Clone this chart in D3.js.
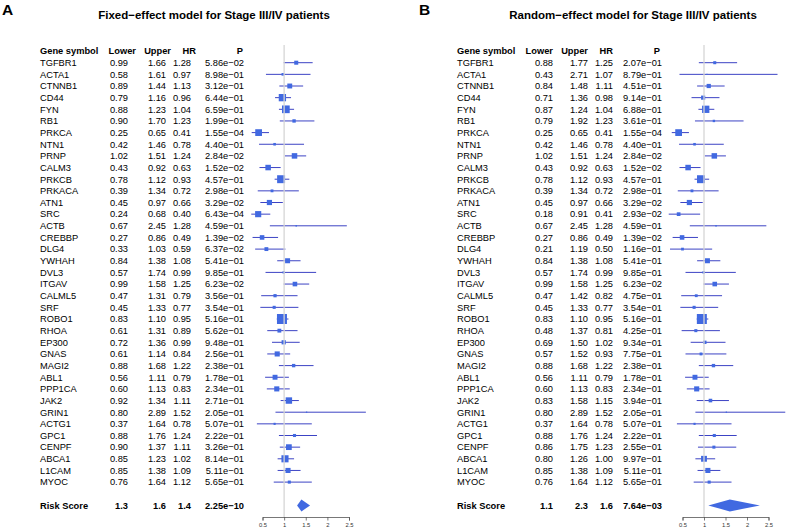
<!DOCTYPE html>
<html><head><meta charset="utf-8">
<script src="https://cdn.jsdelivr.net/npm/d3@7"></script>
<style>body{margin:0;background:#fff}svg{display:block}text{font-family:"Liberation Sans",Arial,Helvetica,sans-serif}</style>
</head><body><svg id="c" width="787" height="532"></svg>
<script>
const genes = ["TGFBR1","ACTA1","CTNNB1","CD44","FYN","RB1","PRKCA","NTN1","PRNP","CALM3","PRKCB","PRKACA","ATN1","SRC","ACTB","CREBBP","DLG4","YWHAH","DVL3","ITGAV","CALML5","SRF","ROBO1","RHOA","EP300","GNAS","MAGI2","ABL1","PPP1CA","JAK2","GRIN1","ACTG1","GPC1","CENPF","ABCA1","L1CAM","MYOC"];

// Panel A: fixed-effect
const lowerA = ["0.99","0.58","0.89","0.79","0.88","0.90","0.25","0.42","1.02","0.43","0.78","0.39","0.45","0.24","0.67","0.27","0.33","0.84","0.57","0.99","0.47","0.45","0.83","0.61","0.72","0.61","0.88","0.56","0.60","0.92","0.80","0.37","0.88","0.90","0.85","0.85","0.76"];
const upperA = ["1.66","1.61","1.44","1.16","1.23","1.70","0.65","1.46","1.51","0.92","1.12","1.34","0.97","0.68","2.45","0.86","1.03","1.38","1.74","1.58","1.31","1.33","1.10","1.31","1.36","1.14","1.68","1.11","1.13","1.34","2.89","1.64","1.76","1.37","1.23","1.38","1.64"];
const hrA    = ["1.28","0.97","1.13","0.96","1.04","1.23","0.41","0.78","1.24","0.63","0.93","0.72","0.66","0.40","1.28","0.49","0.59","1.08","0.99","1.25","0.79","0.77","0.95","0.89","0.99","0.84","1.22","0.79","0.83","1.11","1.52","0.78","1.24","1.11","1.02","1.09","1.12"];
const pA     = ["5.86e-02","8.98e-01","3.12e-01","6.44e-01","6.59e-01","1.99e-01","1.55e-04","4.40e-01","2.84e-02","1.52e-02","4.57e-01","2.98e-01","3.29e-02","6.43e-04","4.59e-01","1.39e-02","6.37e-02","5.41e-01","9.85e-01","6.23e-02","3.56e-01","3.54e-01","5.16e-01","5.62e-01","9.48e-01","2.56e-01","2.38e-01","1.78e-01","2.34e-01","2.71e-01","2.05e-01","5.07e-01","2.22e-01","3.26e-01","8.14e-01","5.11e-01","5.65e-01"];
const riskA  = {lower:"1.3", upper:"1.6", hr:"1.4", p:"2.25e-10"};

// Panel B: random-effect
const lowerB = ["0.88","0.43","0.84","0.71","0.87","0.79","0.25","0.42","1.02","0.43","0.78","0.39","0.45","0.18","0.67","0.27","0.21","0.84","0.57","0.99","0.47","0.45","0.83","0.48","0.69","0.57","0.88","0.56","0.60","0.83","0.80","0.37","0.88","0.86","0.80","0.85","0.76"];
const upperB = ["1.77","2.71","1.48","1.36","1.24","1.92","0.65","1.46","1.51","0.92","1.12","1.34","0.97","0.91","2.45","0.86","1.19","1.38","1.74","1.58","1.42","1.33","1.10","1.37","1.50","1.52","1.68","1.11","1.13","1.58","2.89","1.64","1.76","1.75","1.26","1.38","1.64"];
const hrB    = ["1.25","1.07","1.11","0.98","1.04","1.23","0.41","0.78","1.24","0.63","0.93","0.72","0.66","0.41","1.28","0.49","0.50","1.08","0.99","1.25","0.82","0.77","0.95","0.81","1.02","0.93","1.22","0.79","0.83","1.15","1.52","0.78","1.24","1.23","1.00","1.09","1.12"];
const pB     = ["2.07e-01","8.79e-01","4.51e-01","9.14e-01","6.88e-01","3.61e-01","1.55e-04","4.40e-01","2.84e-02","1.52e-02","4.57e-01","2.98e-01","3.29e-02","2.93e-02","4.59e-01","1.39e-02","1.16e-01","5.41e-01","9.85e-01","6.23e-02","4.75e-01","3.54e-01","5.16e-01","4.25e-01","9.34e-01","7.75e-01","2.38e-01","1.78e-01","2.34e-01","3.94e-01","2.05e-01","5.07e-01","2.22e-01","2.55e-01","9.97e-01","5.11e-01","5.65e-01"];
const riskB  = {lower:"1.1", upper:"2.3", hr:"1.6", p:"7.64e-03"};

const headers = ["Gene symbol","Lower","Upper","HR","P"];
const tickVals = [0.5, 1, 1.5, 2, 2.5];
const titles = ["Fixed\u2212effect model for Stage III/IV patients","Random\u2212effect model for Stage III/IV patients"];
const panelLetters = ["A","B"];

const svg = d3.select("#c");
const fmtP = s => s.replace("-", "\u2212");

const y = d3.scaleLinear().domain([-1, 38]).range([51.05, 505.4]);

function drawPanel(cfg){
  const g = svg.append("g");
  const dx = cfg.dx;
  g.append("text").attr("x", 2+dx).attr("y", 14.5).attr("font-size", 15.5).attr("font-weight","bold").text(cfg.letter);
  g.append("text").attr("x", cfg.titleX).attr("y", 18.8).attr("font-size", 11.5).attr("font-weight","bold").attr("text-anchor","middle").text(cfg.title);

  const colGene = cfg.gene, colH = cfg.hcols, colV = cfg.vcols;
  const fs = 9.3;
  // header
  const hy = y(-1) + 3.3;
  g.append("text").attr("x", colGene).attr("y", hy).attr("font-size", fs).attr("font-weight","bold").text(headers[0]);
  headers.slice(1).forEach((h,i)=>{
    g.append("text").attr("x", colH[i]).attr("y", hy).attr("font-size", fs).attr("font-weight","bold").attr("text-anchor","end").text(h);
  });

  const rows = genes.map((gname,i)=>({g:gname, l:cfg.lower[i], u:cfg.upper[i], hr:cfg.hr[i], p:cfg.p[i], i}));
  const rowG = g.selectAll("g.row").data(rows).join("g").attr("class","row");
  rowG.append("text").attr("x", colGene).attr("y", d=>y(d.i)+3.3).attr("font-size", fs).text(d=>d.g);
  ["l","u","hr","p"].forEach((k,ci)=>{
    rowG.append("text").attr("x", colV[ci]).attr("y", d=>y(d.i)+3.3).attr("font-size", fs).attr("text-anchor","end")
      .text(d=> k==="p" ? fmtP(d.p) : d[k]);
  });
  // risk score row
  const ry = y(38)+3.3;
  g.append("text").attr("x", colGene).attr("y", ry).attr("font-size", fs).attr("font-weight","bold").text("Risk Score");
  [cfg.risk.lower, cfg.risk.upper, cfg.risk.hr, fmtP(cfg.risk.p)].forEach((v,ci)=>{
    g.append("text").attr("x", colV[ci]).attr("y", ry).attr("font-size", fs).attr("font-weight","bold").attr("text-anchor","end").text(v);
  });

  const x = d3.scaleLinear().domain([0.5, 2.5]).range(cfg.xr);
  // reference line
  g.append("line").attr("x1", x(1)).attr("x2", x(1)).attr("y1", 45).attr("y2", 517)
    .attr("stroke", "#d6d6d6").attr("stroke-width", 1.3);

  // box size proportional to precision: inverse of CI width
  const prec = rows.map(d => 1 / (+d.u - +d.l));
  const size = d3.scaleLinear().domain([0, d3.max(prec)]).range([0, 10]);

  rowG.append("line").attr("x1", d=>x(+d.l)).attr("x2", d=>x(+d.u)).attr("y1", d=>y(d.i)).attr("y2", d=>y(d.i))
    .attr("stroke", "#3c43c4").attr("stroke-width", 1);
  rowG.append("rect")
    .attr("x", (d,i)=> x(+d.hr) - size(prec[i])/2)
    .attr("y", (d,i)=> y(d.i) - size(prec[i])/2)
    .attr("width", (d,i)=> size(prec[i]))
    .attr("height", (d,i)=> size(prec[i]))
    .attr("fill", "#4169E1");

  // diamond
  const cy = y(38);
  const pts = [[x(+cfg.risk.lower), cy],[x(+cfg.risk.hr), cy-6],[x(+cfg.risk.upper), cy],[x(+cfg.risk.hr), cy+6]];
  g.append("path").attr("d", d3.line()(pts)+"Z").attr("fill", "#4169E1");

  // axis
  const ax = g.append("g").attr("transform", "translate(0,517)")
    .call(d3.axisBottom(x).tickValues(tickVals).tickSize(3.5).tickPadding(2).tickFormat(d3.format("")));
  ax.select(".domain").attr("stroke", "#555").attr("stroke-width", 0.8);
  ax.selectAll(".tick line").attr("stroke", "#555").attr("stroke-width", 0.8);
  ax.selectAll(".tick text").attr("font-size", 5.8).attr("fill", "#333").attr("font-family", "Liberation Sans, Arial, sans-serif");
}

drawPanel({dx:0, letter:panelLetters[0], title:titles[0], titleX:214, gene:40, hcols:[136,171,196,243], vcols:[128,166,191,244],
  lower:lowerA, upper:upperA, hr:hrA, p:pA, risk:riskA, xr:[262.5, 349]});
drawPanel({dx:417, letter:panelLetters[1], title:titles[1], titleX:633, gene:457, hcols:[553,588,613,660], vcols:[553,588,613,662],
  lower:lowerB, upper:upperB, hr:hrB, p:pB, risk:riskB, xr:[682.5, 768.5]});
</script></body></html>
